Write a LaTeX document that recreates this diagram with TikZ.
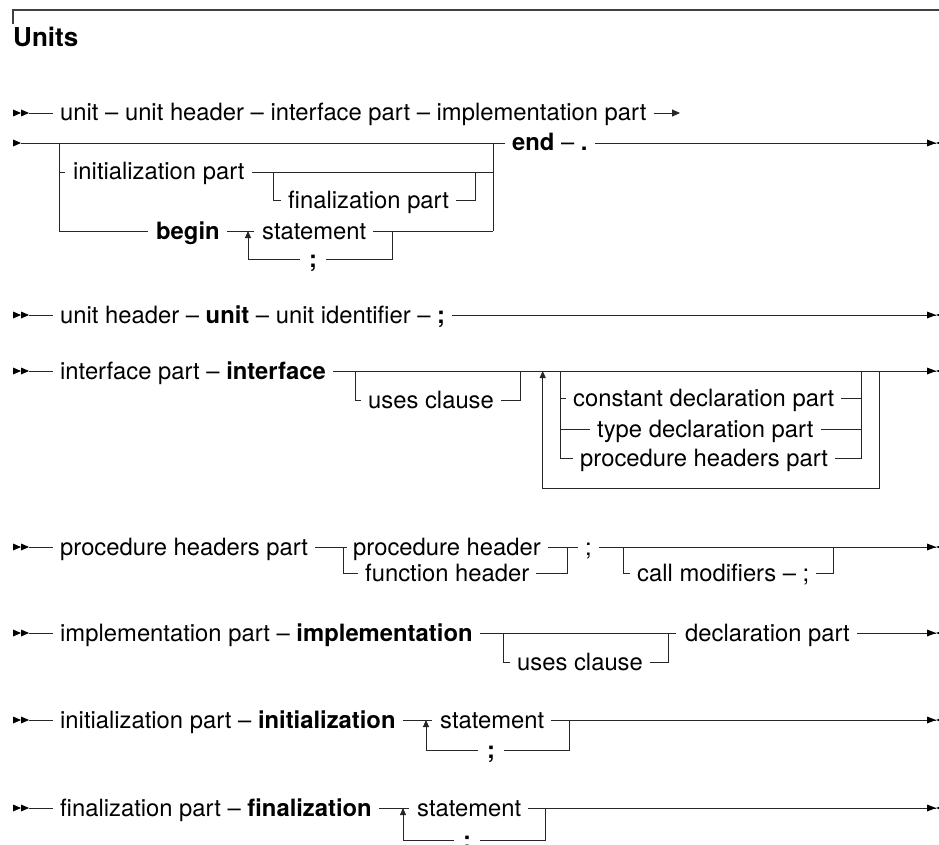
\documentclass[tikz,border=0pt]{standalone}
\usepackage{fontspec}
\setmainfont{TeX Gyre Heros}
\usetikzlibrary{arrows.meta,calc}
\begin{document}
\begin{tikzpicture}[x=1pt,y=-1pt,
  rail/.style={line width=0.9pt,draw=black!85},
  lbl/.style={anchor=base west,inner sep=0pt,font=\fontsize{23.8}{28}\selectfont},
  uparrow/.style={rail,-{Triangle[length=7pt,width=6pt]}},
  contarrow/.style={rail,-{Triangle[length=8pt,width=7pt]}},
  pics/dstart/.style={code={
    \fill[black] (0,-3.5)--(8,0)--(0,3.5)--cycle;
    \fill[black] (8,-3.5)--(16,0)--(8,3.5)--cycle;
    \draw[rail] (16,0)--(40,0);}},
  pics/sstart/.style={code={\fill[black] (0,-3.5)--(8,0)--(0,3.5)--cycle;}},
  pics/railend/.style={code={
    \fill[black] (-9,-3.5)--(0,0)--(-9,3.5)--cycle;
    \fill[black] (9,-3.5)--(0,0)--(9,3.5)--cycle;}}
]
\useasboundingbox (0,0) rectangle (939,845);
% header rule and title
\draw[line width=1.1pt,black!75] (13,24) -- (13,10) -- (939,10);
\node[anchor=base west,inner sep=0pt,font=\fontsize{26}{30}\selectfont\bfseries] (title) at (13,47) {Units};

% ---------------- Row 1 : unit
\coordinate (r1) at (0,113);
\pic at (13,113) {dstart};
\node[lbl] (a1) at (60,121) {unit – unit header – interface part – implementation part};
\draw[contarrow] ($(a1.east|-r1)+(7,0)$) -- (680,113);

\coordinate (r2) at (0,143);
\coordinate (r2b) at (0,172);
\coordinate (r2f) at (0,200);
\coordinate (r2c) at (0,231);
\coordinate (r2d) at (0,259);
\pic at (13,143) {sstart};
\draw[rail] (21,143) -- (505,143);
\node[lbl] (e1) at (512,151) {\textbf{end} – \textbf{.}};
\draw[rail] ($(e1.east|-r2)+(7,0)$) -- (936,143);
\pic at (936,143) {railend};
\draw[rail] (59,143) -- (59,231) -- (148,231);
\draw[rail] (493,143) -- (493,231);
\draw[rail] (59,172) -- (65,172);
\node[lbl] (ip) at (73,180) {initialization part};
\draw[rail] ($(ip.east|-r2b)+(7,0)$) -- (493,172);
\draw[rail] (273,172) -- (273,200) -- (281,200);
\node[lbl] (fp) at (288,208) {finalization part};
\draw[rail] ($(fp.east|-r2f)+(7,0)$) -- (475,200) -- (475,172);
\node[lbl] (bg) at (156,239) {\textbf{begin}};
\draw[rail] ($(bg.east|-r2c)+(7,0)$) -- (254,231);
\node[lbl] (st1) at (262,239) {statement};
\draw[rail] ($(st1.east|-r2c)+(7,0)$) -- (493,231);
\node[lbl,anchor=base] (sc1) at (313,267) {\textbf{;}};
\draw[rail] (392,231) -- (392,259) -- ($(sc1.east|-r2d)+(9,0)$);
\draw[uparrow] ($(sc1.west|-r2d)+(-9,0)$) -- (248,259) -- (248,231);

% ---------------- Row 3 : unit header
\coordinate (r3) at (0,315);
\pic at (13,315) {dstart};
\node[lbl] (uh) at (60,323) {unit header – \textbf{unit} – unit identifier – \textbf{;}};
\draw[rail] ($(uh.east|-r3)+(7,0)$) -- (936,315);
\pic at (936,315) {railend};

% ---------------- Row 4 : interface part
\coordinate (r4) at (0,371);
\coordinate (r4u) at (0,400);
\coordinate (r4a) at (0,398);
\coordinate (r4b) at (0,429);
\coordinate (r4c) at (0,458);
\pic at (13,371) {dstart};
\node[lbl] (ifp) at (60,379) {interface part – \textbf{interface}};
\draw[rail] ($(ifp.east|-r4)+(7,0)$) -- (936,371);
\pic at (936,371) {railend};
\draw[rail] (355,371) -- (355,400) -- (361,400);
\node[lbl] (uc1) at (368,408) {uses clause};
\draw[rail] ($(uc1.east|-r4u)+(7,0)$) -- (520,400) -- (520,371);
\draw[uparrow] (879,371) -- (879,488) -- (542.7,488) -- (542.7,371);
\draw[rail] (560.7,371) -- (560.7,458) -- (573,458);
\draw[rail] (560.7,398) -- (566,398);
\node[lbl] (cd) at (573,406) {constant declaration part};
\draw[rail] ($(cd.east|-r4a)+(7,0)$) -- (861.7,398);
\draw[rail] (560.7,429) -- (590,429);
\node[lbl] (td) at (597,437) {type declaration part};
\draw[rail] ($(td.east|-r4b)+(7,0)$) -- (861.7,429);
\node[lbl] (ph) at (580,466) {procedure headers part};
\draw[rail] ($(ph.east|-r4c)+(7,0)$) -- (861.7,458) -- (861.7,371);

% ---------------- Row 5 : procedure headers part
\coordinate (r5) at (0,547);
\coordinate (r5b) at (0,573);
\pic at (13,547) {dstart};
\node[lbl] (phx) at (60,555) {procedure headers part};
\draw[rail] ($(phx.east|-r5)+(7,0)$) -- (347,547);
\node[lbl] (prh) at (353,555) {procedure header};
\draw[rail] ($(prh.east|-r5)+(7,0)$) -- (578,547);
\node[lbl] (sc5) at (585,555) {;};
\draw[rail] ($(sc5.east|-r5)+(7,0)$) -- (936,547);
\pic at (936,547) {railend};
\draw[rail] (343,547) -- (343,573) -- (358,573);
\node[lbl] (fh) at (365,581) {function header};
\draw[rail] ($(fh.east|-r5b)+(7,0)$) -- (567,573) -- (567,547);
\draw[rail] (623,547) -- (623,573) -- (630,573);
\node[lbl] (cm) at (637,581) {call modifiers – ;};
\draw[rail] ($(cm.east|-r5b)+(7,0)$) -- (833,573) -- (833,547);

% ---------------- Row 6 : implementation part
\coordinate (r6) at (0,633);
\coordinate (r6b) at (0,662);
\pic at (13,633) {dstart};
\node[lbl] (imp) at (60,641) {implementation part – \textbf{implementation}};
\draw[rail] ($(imp.east|-r6)+(7,0)$) -- (676,633);
\node[lbl] (dp) at (685,641) {declaration part};
\draw[rail] ($(dp.east|-r6)+(7,0)$) -- (936,633);
\pic at (936,633) {railend};
\draw[rail] (503,633) -- (503,662) -- (510,662);
\node[lbl] (uc2) at (517,670) {uses clause};
\draw[rail] ($(uc2.east|-r6b)+(7,0)$) -- (668,662) -- (668,633);

% ---------------- Row 7 : initialization part
\coordinate (r7) at (0,720);
\coordinate (r7b) at (0,750.7);
\pic at (13,720) {dstart};
\node[lbl] (inp) at (60,728) {initialization part – \textbf{initialization}};
\draw[rail] ($(inp.east|-r7)+(7,0)$) -- (432,720);
\node[lbl] (st7) at (440,728) {statement};
\draw[rail] ($(st7.east|-r7)+(7,0)$) -- (936,720);
\pic at (936,720) {railend};
\node[lbl,anchor=base] (sc7) at (491,758.7) {\textbf{;}};
\draw[rail] (569,720) -- (569,750.7) -- ($(sc7.east|-r7b)+(9,0)$);
\draw[uparrow] ($(sc7.west|-r7b)+(-9,0)$) -- (426,750.7) -- (426,720);

% ---------------- Row 8 : finalization part
\coordinate (r8) at (0,808);
\coordinate (r8b) at (0,840);
\pic at (13,808) {dstart};
\node[lbl] (fnp) at (60,816) {finalization part – \textbf{finalization}};
\draw[rail] ($(fnp.east|-r8)+(7,0)$) -- (409,808);
\node[lbl] (st8) at (417,816) {statement};
\draw[rail] ($(st8.east|-r8)+(7,0)$) -- (936,808);
\pic at (936,808) {railend};
\node[lbl,anchor=base] (sc8) at (467,848) {\textbf{;}};
\draw[rail] (545,808) -- (545,840) -- ($(sc8.east|-r8b)+(9,0)$);
\draw[uparrow] ($(sc8.west|-r8b)+(-9,0)$) -- (403,840) -- (403,808);
\end{tikzpicture}
\end{document}
